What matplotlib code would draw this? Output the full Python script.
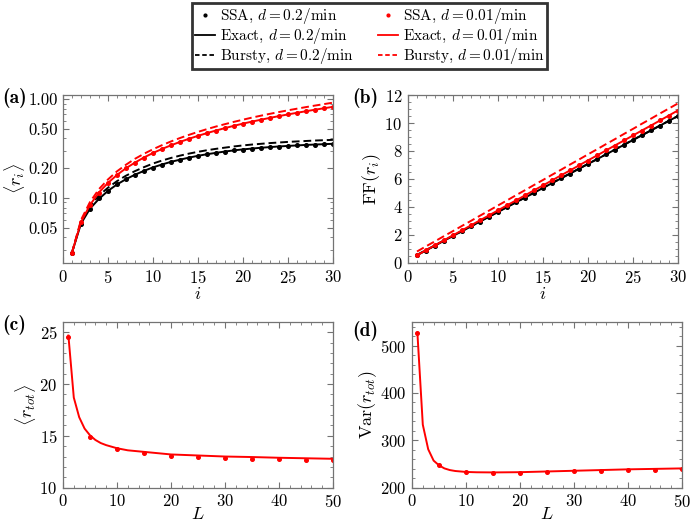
import numpy as np
import matplotlib
matplotlib.use("Agg")
import matplotlib.pyplot as plt
from matplotlib.ticker import FixedLocator, FixedFormatter, MultipleLocator, LogLocator, NullFormatter
from matplotlib.lines import Line2D

plt.rcParams['font.family'] = 'serif'
plt.rcParams['font.serif'] = ['cmr10']
plt.rcParams['mathtext.fontset'] = 'cm'
plt.rcParams['axes.formatter.use_mathtext'] = True

# ---- data ----
i_vals = list(range(1, 31))

# panel (a): mean <r_i>
mean_exact_02 = [0.028, 0.055, 0.078, 0.098, 0.118, 0.137, 0.155, 0.172, 0.188, 0.204,
                 0.218, 0.232, 0.244, 0.256, 0.267, 0.277, 0.286, 0.295, 0.303, 0.310,
                 0.316, 0.322, 0.327, 0.332, 0.336, 0.340, 0.344, 0.347, 0.350, 0.353]
mean_bursty_02 = [0.028, 0.058, 0.083, 0.106, 0.127, 0.148, 0.168, 0.187, 0.205, 0.223,
                  0.239, 0.254, 0.268, 0.281, 0.293, 0.304, 0.314, 0.323, 0.332, 0.340,
                  0.347, 0.353, 0.359, 0.364, 0.369, 0.373, 0.377, 0.381, 0.384, 0.387]
mean_ssa_02 = [0.028, 0.055, 0.078, 0.099, 0.118, 0.137, 0.155, 0.171, 0.188, 0.203,
               0.218, 0.231, 0.244, 0.256, 0.266, 0.277, 0.286, 0.294, 0.303, 0.309,
               0.316, 0.321, 0.327, 0.331, 0.336, 0.340, 0.343, 0.347, 0.350, 0.352]
mean_exact_001 = [0.028, 0.057, 0.085, 0.114, 0.142, 0.171, 0.200, 0.228, 0.257, 0.285,
                  0.313, 0.341, 0.369, 0.397, 0.425, 0.453, 0.481, 0.509, 0.537, 0.565,
                  0.592, 0.619, 0.646, 0.673, 0.700, 0.727, 0.754, 0.781, 0.808, 0.835]
mean_bursty_001 = [0.028, 0.060, 0.091, 0.123, 0.154, 0.186, 0.217, 0.249, 0.280, 0.311,
                   0.342, 0.373, 0.404, 0.435, 0.466, 0.497, 0.528, 0.558, 0.589, 0.619,
                   0.650, 0.680, 0.710, 0.740, 0.770, 0.800, 0.830, 0.860, 0.890, 0.920]
mean_ssa_001 = [0.028, 0.057, 0.085, 0.113, 0.142, 0.170, 0.199, 0.228, 0.256, 0.284,
                0.312, 0.341, 0.368, 0.396, 0.424, 0.452, 0.480, 0.508, 0.536, 0.563,
                0.591, 0.618, 0.645, 0.672, 0.699, 0.726, 0.752, 0.779, 0.806, 0.832]

# panel (b): Fano factor FF(r_i)
ff_exact_02 = [0.55, 0.90, 1.24, 1.59, 1.93, 2.27, 2.61, 2.96, 3.30, 3.64,
               3.99, 4.33, 4.67, 5.01, 5.36, 5.70, 6.04, 6.39, 6.73, 7.07,
               7.41, 7.76, 8.10, 8.44, 8.79, 9.13, 9.47, 9.81, 10.16, 10.50]
ff_bursty_02 = [0.58, 0.92, 1.26, 1.61, 1.95, 2.29, 2.63, 2.97, 3.32, 3.66,
                4.00, 4.34, 4.68, 5.03, 5.37, 5.71, 6.05, 6.39, 6.74, 7.08,
                7.42, 7.76, 8.11, 8.45, 8.79, 9.13, 9.47, 9.82, 10.16, 10.50]
ff_ssa_02 = [0.55, 0.89, 1.24, 1.58, 1.93, 2.27, 2.61, 2.95, 3.30, 3.64,
             3.98, 4.33, 4.67, 5.01, 5.35, 5.70, 6.04, 6.38, 6.72, 7.07,
             7.41, 7.75, 8.10, 8.44, 8.78, 9.12, 9.47, 9.81, 10.15, 10.49]
ff_exact_001 = [0.55, 0.91, 1.26, 1.62, 1.98, 2.33, 2.69, 3.05, 3.40, 3.76,
                4.12, 4.47, 4.83, 5.19, 5.54, 5.90, 6.26, 6.61, 6.97, 7.33,
                7.68, 8.04, 8.40, 8.75, 9.11, 9.47, 9.82, 10.18, 10.54, 10.90]
ff_bursty_001 = [0.82, 1.19, 1.55, 1.92, 2.28, 2.65, 3.01, 3.38, 3.74, 4.11,
                 4.47, 4.84, 5.20, 5.57, 5.93, 6.30, 6.66, 7.03, 7.39, 7.76,
                 8.12, 8.49, 8.85, 9.22, 9.58, 9.95, 10.31, 10.68, 11.04, 11.40]
ff_ssa_001 = [0.55, 0.91, 1.26, 1.62, 1.97, 2.33, 2.69, 3.04, 3.40, 3.76,
              4.11, 4.47, 4.83, 5.18, 5.54, 5.90, 6.25, 6.61, 6.97, 7.32,
              7.68, 8.04, 8.39, 8.75, 9.11, 9.46, 9.82, 10.18, 10.53, 10.89]

# panels (c), (d): total nascent RNA vs L
L_line = [1, 2, 3, 4, 5, 6, 7, 8, 9, 10, 12, 15, 20, 25, 30, 35, 40, 45, 50]
rtot_mean_line = [24.7, 18.7, 16.8, 15.7, 15.05, 14.6, 14.3, 14.1, 13.95, 13.8,
                  13.6, 13.45, 13.2, 13.1, 13.0, 12.95, 12.88, 12.83, 12.78]
rtot_var_line = [527.0, 333.0, 281.0, 257.0, 247.0, 240.5, 237.0, 235.0, 234.0, 233.0,
                 232.3, 232.0, 232.5, 234.0, 235.5, 237.0, 238.5, 239.5, 240.5]
L_ssa = [1, 5, 10, 15, 20, 25, 30, 35, 40, 45, 50]
rtot_mean_ssa = [24.6, 14.9, 13.7, 13.3, 13.05, 12.95, 12.85, 12.8, 12.75, 12.7, 12.7]
rtot_var_ssa = [527.0, 247.0, 232.0, 231.0, 231.5, 232.5, 234.0, 235.5, 236.5, 237.5, 239.0]

# ---- figure ----
fig = plt.figure(figsize=(6.9, 5.22), dpi=100)
axA = fig.add_axes([0.0913, 0.4962, 0.3913, 0.3218])
axB = fig.add_axes([0.5913, 0.4962, 0.3913, 0.3218])
axC = fig.add_axes([0.0913, 0.066, 0.3913, 0.317])
axD = fig.add_axes([0.5971, 0.066, 0.3913, 0.317])

lw = 1.4
ms = 2.6
dash = (0, (4, 2))


def style(ax):
    ax.tick_params(which='both', direction='in', top=True, right=True, labelsize=12,
                   color='0.45', pad=4)
    ax.tick_params(which='major', length=4)
    ax.tick_params(which='minor', length=2)
    for s in ax.spines.values():
        s.set_color('0.45')
        s.set_linewidth(0.9)


# (a)
axA.set_yscale('log')
axA.plot(i_vals, mean_exact_02, color='black', lw=lw)
axA.plot(i_vals, mean_bursty_02, color='black', lw=lw, ls=dash)
axA.plot(i_vals, mean_ssa_02, 'o', color='black', ms=ms)
axA.plot(i_vals, mean_exact_001, color='red', lw=lw)
axA.plot(i_vals, mean_bursty_001, color='red', lw=lw, ls=dash)
axA.plot(i_vals, mean_ssa_001, 'o', color='red', ms=ms)
axA.set_xlim(0, 30)
axA.set_ylim(0.022, 1.1)
yt = [0.05, 0.10, 0.20, 0.50, 1.00]
axA.yaxis.set_major_locator(FixedLocator(yt))
axA.yaxis.set_major_formatter(FixedFormatter(['%.2f' % v for v in yt]))
axA.yaxis.set_minor_locator(LogLocator(base=10, subs=np.arange(2, 10)))
axA.yaxis.set_minor_formatter(NullFormatter())
axA.xaxis.set_major_locator(MultipleLocator(5))
axA.xaxis.set_minor_locator(MultipleLocator(1))
axA.set_xlabel(r'$i$', fontsize=13, labelpad=0)
axA.set_ylabel(r'$\langle r_i\rangle$', fontsize=13, labelpad=1)
style(axA)

# (b)
axB.plot(i_vals, ff_exact_02, color='black', lw=lw)
axB.plot(i_vals, ff_bursty_02, color='black', lw=lw, ls=dash)
axB.plot(i_vals, ff_ssa_02, 'o', color='black', ms=ms)
axB.plot(i_vals, ff_exact_001, color='red', lw=lw)
axB.plot(i_vals, ff_bursty_001, color='red', lw=lw, ls=dash)
axB.plot(i_vals, ff_ssa_001, 'o', color='red', ms=ms)
axB.set_xlim(0, 30)
axB.set_ylim(0, 12)
axB.xaxis.set_major_locator(MultipleLocator(5))
axB.xaxis.set_minor_locator(MultipleLocator(1))
axB.yaxis.set_major_locator(MultipleLocator(2))
axB.yaxis.set_minor_locator(MultipleLocator(0.5))
axB.set_xlabel(r'$i$', fontsize=13, labelpad=0)
axB.set_ylabel(r'$\mathrm{FF}(r_i)$', fontsize=13, labelpad=1)
style(axB)

# (c)
axC.plot(L_line, rtot_mean_line, color='red', lw=lw)
axC.plot(L_ssa, rtot_mean_ssa, 'o', color='red', ms=ms)
axC.set_xlim(0, 50)
axC.set_ylim(10, 26)
axC.xaxis.set_major_locator(MultipleLocator(10))
axC.xaxis.set_minor_locator(MultipleLocator(2))
axC.yaxis.set_major_locator(MultipleLocator(5))
axC.yaxis.set_minor_locator(MultipleLocator(1))
axC.set_xlabel(r'$L$', fontsize=13, labelpad=-3)
axC.set_ylabel(r'$\langle r_{tot}\rangle$', fontsize=13, labelpad=1)
style(axC)

# (d)
axD.plot(L_line, rtot_var_line, color='red', lw=lw)
axD.plot(L_ssa, rtot_var_ssa, 'o', color='red', ms=ms)
axD.set_xlim(0, 50)
axD.set_ylim(200, 550)
axD.xaxis.set_major_locator(MultipleLocator(10))
axD.xaxis.set_minor_locator(MultipleLocator(2))
axD.yaxis.set_major_locator(MultipleLocator(100))
axD.yaxis.set_minor_locator(MultipleLocator(20))
axD.set_xlabel(r'$L$', fontsize=13, labelpad=-3)
axD.set_ylabel(r'$\mathrm{Var}(r_{tot})$', fontsize=13, labelpad=1)
style(axD)

# panel letters
for x, y, s in [(0.003, 0.813, '(a)'), (0.51, 0.813, '(b)'),
                (0.003, 0.377, '(c)'), (0.51, 0.365, '(d)')]:
    fig.text(x, y, s, family='cmb10', fontsize=14, va='center', ha='left')

# legend
handles = [
    Line2D([], [], ls='none', marker='o', ms=2.0, color='black'),
    Line2D([], [], color='black', lw=1.3),
    Line2D([], [], color='black', lw=1.3, ls=(0, (2.5, 1.5))),
    Line2D([], [], ls='none', marker='o', ms=2.0, color='red'),
    Line2D([], [], color='red', lw=1.3),
    Line2D([], [], color='red', lw=1.3, ls=(0, (2.5, 1.5))),
]
labels = [
    r'SSA, $d=0.2/\mathrm{min}$', r'Exact, $d=0.2/\mathrm{min}$', r'Bursty, $d=0.2/\mathrm{min}$',
    r'SSA, $d=0.01/\mathrm{min}$', r'Exact, $d=0.01/\mathrm{min}$', r'Bursty, $d=0.01/\mathrm{min}$',
]
leg = fig.legend(handles, labels, ncol=2, loc='upper center', bbox_to_anchor=(0.536, 0.994),
                 fontsize=11, frameon=True, fancybox=False, handlelength=1.3,
                 handletextpad=0.3, columnspacing=1.6, labelspacing=0.0,
                 borderpad=0.2, borderaxespad=0)
leg.get_frame().set_edgecolor('black')
leg.get_frame().set_linewidth(2.0)

fig.savefig('out.png', dpi=100)
